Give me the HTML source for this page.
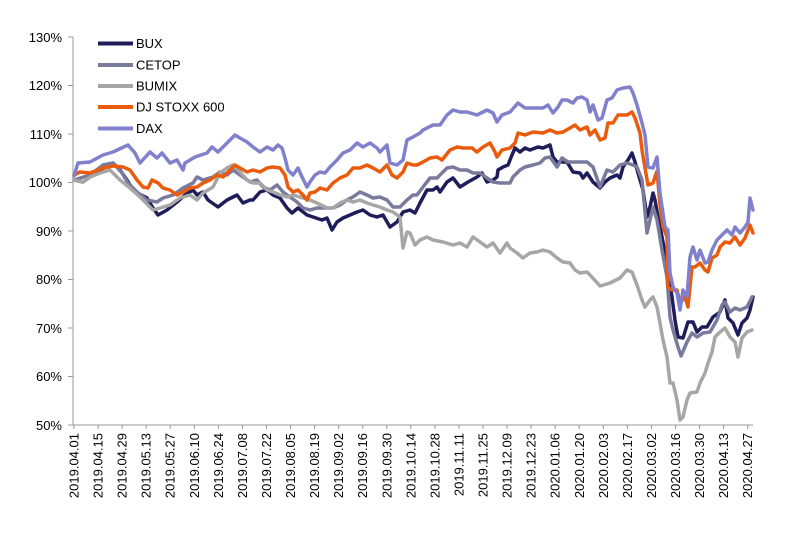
<!DOCTYPE html>
<html><head><meta charset="utf-8"><style>
html,body{margin:0;padding:0;background:#fff;}
svg{display:block;}
text{font-family:"Liberation Sans",Arial,sans-serif;font-size:13px;fill:#000;}
</style></head><body>
<svg width="796" height="536" viewBox="0 0 796 536" xmlns="http://www.w3.org/2000/svg">
<g stroke="#999" stroke-width="1" fill="none">
<line x1="73" y1="37" x2="73" y2="425"/>
<line x1="73" y1="425" x2="753" y2="425"/>
<line x1="68" y1="37" x2="73" y2="37"/><line x1="68" y1="85.5" x2="73" y2="85.5"/><line x1="68" y1="134" x2="73" y2="134"/><line x1="68" y1="182.5" x2="73" y2="182.5"/><line x1="68" y1="231" x2="73" y2="231"/><line x1="68" y1="279.5" x2="73" y2="279.5"/><line x1="68" y1="328" x2="73" y2="328"/><line x1="68" y1="376.5" x2="73" y2="376.5"/><line x1="68" y1="425" x2="73" y2="425"/>
<line x1="74" y1="425" x2="74" y2="429"/><line x1="98.06" y1="425" x2="98.06" y2="429"/><line x1="122.12" y1="425" x2="122.12" y2="429"/><line x1="146.18" y1="425" x2="146.18" y2="429"/><line x1="170.24" y1="425" x2="170.24" y2="429"/><line x1="194.3" y1="425" x2="194.3" y2="429"/><line x1="218.36" y1="425" x2="218.36" y2="429"/><line x1="242.42" y1="425" x2="242.42" y2="429"/><line x1="266.48" y1="425" x2="266.48" y2="429"/><line x1="290.54" y1="425" x2="290.54" y2="429"/><line x1="314.6" y1="425" x2="314.6" y2="429"/><line x1="338.66" y1="425" x2="338.66" y2="429"/><line x1="362.72" y1="425" x2="362.72" y2="429"/><line x1="386.78" y1="425" x2="386.78" y2="429"/><line x1="410.84" y1="425" x2="410.84" y2="429"/><line x1="434.9" y1="425" x2="434.9" y2="429"/><line x1="458.96" y1="425" x2="458.96" y2="429"/><line x1="483.02" y1="425" x2="483.02" y2="429"/><line x1="507.08" y1="425" x2="507.08" y2="429"/><line x1="531.14" y1="425" x2="531.14" y2="429"/><line x1="555.2" y1="425" x2="555.2" y2="429"/><line x1="579.26" y1="425" x2="579.26" y2="429"/><line x1="603.32" y1="425" x2="603.32" y2="429"/><line x1="627.38" y1="425" x2="627.38" y2="429"/><line x1="651.44" y1="425" x2="651.44" y2="429"/><line x1="675.5" y1="425" x2="675.5" y2="429"/><line x1="699.56" y1="425" x2="699.56" y2="429"/><line x1="723.62" y1="425" x2="723.62" y2="429"/><line x1="747.68" y1="425" x2="747.68" y2="429"/>
</g>
<g text-anchor="end">
<text x="62" y="42">130%</text><text x="62" y="90">120%</text><text x="62" y="139">110%</text><text x="62" y="187">100%</text><text x="62" y="236">90%</text><text x="62" y="284">80%</text><text x="62" y="333">70%</text><text x="62" y="381">60%</text><text x="62" y="430">50%</text>
</g>
<g text-anchor="end">
<text transform="translate(78.5,433) rotate(-90)">2019.04.01</text>
<text transform="translate(102.56,433) rotate(-90)">2019.04.15</text>
<text transform="translate(126.62,433) rotate(-90)">2019.04.29</text>
<text transform="translate(150.68,433) rotate(-90)">2019.05.13</text>
<text transform="translate(174.74,433) rotate(-90)">2019.05.27</text>
<text transform="translate(198.8,433) rotate(-90)">2019.06.10</text>
<text transform="translate(222.86,433) rotate(-90)">2019.06.24</text>
<text transform="translate(246.92,433) rotate(-90)">2019.07.08</text>
<text transform="translate(270.98,433) rotate(-90)">2019.07.22</text>
<text transform="translate(295.04,433) rotate(-90)">2019.08.05</text>
<text transform="translate(319.1,433) rotate(-90)">2019.08.19</text>
<text transform="translate(343.16,433) rotate(-90)">2019.09.02</text>
<text transform="translate(367.22,433) rotate(-90)">2019.09.16</text>
<text transform="translate(391.28,433) rotate(-90)">2019.09.30</text>
<text transform="translate(415.34,433) rotate(-90)">2019.10.14</text>
<text transform="translate(439.4,433) rotate(-90)">2019.10.28</text>
<text transform="translate(463.46,433) rotate(-90)">2019.11.11</text>
<text transform="translate(487.52,433) rotate(-90)">2019.11.25</text>
<text transform="translate(511.58,433) rotate(-90)">2019.12.09</text>
<text transform="translate(535.64,433) rotate(-90)">2019.12.23</text>
<text transform="translate(559.7,433) rotate(-90)">2020.01.06</text>
<text transform="translate(583.76,433) rotate(-90)">2020.01.20</text>
<text transform="translate(607.82,433) rotate(-90)">2020.02.03</text>
<text transform="translate(631.88,433) rotate(-90)">2020.02.17</text>
<text transform="translate(655.94,433) rotate(-90)">2020.03.02</text>
<text transform="translate(680,433) rotate(-90)">2020.03.16</text>
<text transform="translate(704.06,433) rotate(-90)">2020.03.30</text>
<text transform="translate(728.12,433) rotate(-90)">2020.04.13</text>
<text transform="translate(752.18,433) rotate(-90)">2020.04.27</text>
</g>
<g fill="none" stroke-width="3.5" stroke-linejoin="round" stroke-linecap="round">
<polyline stroke="#1f1c5a" points="74,180 83,182 90,177 100,170 113,163 120,170 127,180 132,188 137,193 147,198 153,208 158,215 167,210 177,202 185,195 193,190 197,195 203,192 208,200 218,207 227,200 237,195 243,203 250,200 253,200 260,192 267,190 273,195 280,198 287,208 292,213 298,208 307,215 313,217 322,220 327,218 332,230 337,222 343,218 350,215 357,212 363,210 370,215 377,217 383,215 390,227 397,222 403,212 410,210 415,213 420,203 427,190 433,190 437,187 440,192 447,182 453,178 460,187 468,182 477,177 482,173 487,182 493,180 497,177 498,170 503,167 508,165 512,155 515,148 520,152 525,148 530,150 538,147 543,148 550,145 553,157 557,162 567,162 573,172 580,173 583,178 587,173 593,182 600,188 605,182 610,178 617,175 620,178 623,167 628,160 632,153 635,162 638,173 643,190 647,217 650,207 653,193 655,200 658,217 662,237 665,253 668,273 672,297 675,320 678,337 683,338 688,322 693,322 697,332 702,327 707,327 713,317 720,312 725,300 728,318 733,323 738,335 742,323 747,318 750,310 753,297"/>
<polyline stroke="#7a7a9c" points="74,180 90,175 103,165 113,163 122,173 128,183 137,192 147,200 157,202 163,198 173,195 183,188 193,183 197,177 203,180 213,177 220,172 227,175 233,170 240,175 250,182 257,180 263,187 270,190 277,185 283,192 290,197 297,202 303,208 310,210 317,208 327,208 333,208 340,205 347,200 353,197 360,192 367,195 373,198 380,197 387,200 393,207 400,207 407,200 413,195 417,195 423,187 430,178 437,178 442,173 447,168 453,167 460,170 467,170 473,173 480,173 487,178 493,182 500,183 510,183 513,177 520,170 525,167 533,165 540,163 545,158 550,157 557,167 562,158 568,162 577,162 587,162 593,167 600,187 607,170 613,172 620,165 627,163 633,165 637,167 642,180 647,233 650,220 653,207 657,220 662,250 667,277 670,317 673,330 678,347 681,356 687,342 692,333 697,337 703,333 710,332 717,320 722,305 725,302 730,312 735,308 740,310 747,307 752,297"/>
<polyline stroke="#a6a6a6" points="74,180 83,182 90,177 100,173 110,170 120,180 130,188 140,197 150,207 153,210 160,208 170,205 180,198 190,195 197,200 203,193 213,187 220,173 227,168 233,165 240,172 247,180 253,183 260,183 267,190 273,192 280,195 287,197 293,195 303,198 310,200 317,203 327,208 333,208 340,203 347,200 353,202 360,200 367,203 373,205 380,207 387,210 393,212 400,217 403,248 407,232 410,233 415,245 420,240 427,237 433,240 443,242 453,245 460,243 467,247 473,237 480,242 487,247 493,243 500,253 507,243 510,248 517,253 523,258 530,253 537,252 543,250 550,252 557,258 563,262 570,263 575,270 580,273 587,272 590,275 600,286 610,283 620,278 627,270 632,272 637,285 642,300 645,307 650,300 653,297 657,307 660,323 663,340 667,357 670,383 673,383 677,400 680,420 683,417 687,400 690,393 697,392 700,383 705,373 708,363 712,352 715,337 720,332 725,328 730,337 735,342 738,357 742,338 747,332 752,330"/>
<polyline stroke="#ea5b0c" points="74,175 80,172 90,173 103,168 113,166 123,167 130,170 137,180 143,187 148,188 152,180 158,183 163,188 170,190 177,195 183,192 190,188 197,187 203,183 210,180 217,175 223,177 230,170 235,165 240,168 247,172 253,170 260,172 267,168 273,167 280,168 285,175 288,187 293,192 298,190 303,195 307,200 310,193 315,192 320,188 327,190 333,183 340,178 347,175 353,168 360,168 367,165 373,168 380,172 387,165 392,175 397,178 403,172 407,163 413,165 417,165 423,162 430,158 437,157 442,160 450,150 457,147 463,148 472,148 477,152 483,147 490,143 495,152 497,157 502,150 510,148 515,143 518,133 525,135 533,132 543,133 550,130 557,133 563,132 570,128 575,125 580,130 587,127 590,135 595,130 600,140 605,138 608,123 613,123 618,115 627,115 632,112 635,118 640,133 642,150 645,168 648,185 653,183 657,171 660,205 663,227 667,237 668,287 672,290 677,290 680,303 685,297 688,307 692,267 695,267 700,263 705,270 708,272 712,258 717,255 720,247 725,242 730,243 735,237 740,245 745,238 750,225 753,233"/>
<polyline stroke="#8080cc" points="74,176 78,163 90,162 103,155 113,152 128,145 135,153 140,163 150,152 157,158 162,153 170,163 177,160 183,170 185,163 195,157 207,153 212,147 218,152 227,143 235,135 240,138 247,142 253,147 260,152 267,147 273,150 278,145 282,148 285,158 288,170 293,175 298,168 302,177 307,187 310,182 315,175 320,172 325,173 330,167 337,160 343,153 350,150 357,143 363,147 370,143 377,148 380,152 387,145 390,163 397,165 403,160 407,140 413,137 420,133 423,130 433,125 440,125 447,115 453,110 460,112 467,112 477,115 487,110 493,113 497,122 502,115 510,112 518,103 525,108 533,108 543,108 548,105 553,113 558,107 562,100 567,100 573,103 577,98 582,97 587,100 590,112 593,105 598,120 602,118 607,100 612,98 617,90 623,88 630,87 633,93 637,105 642,123 645,135 648,167 653,168 657,157 660,193 665,227 668,230 670,273 673,287 677,293 680,310 683,290 687,297 690,257 693,247 697,260 700,250 705,263 708,262 712,250 717,240 722,235 727,230 732,235 735,227 740,233 745,227 748,222 750,198 753,210"/>
</g>
<g stroke-width="4" stroke-linecap="butt">
<line x1="98" y1="43.5" x2="133" y2="43.5" stroke="#1f1c5a"/>
<line x1="98" y1="65" x2="133" y2="65" stroke="#7a7a9c"/>
<line x1="98" y1="86" x2="133" y2="86" stroke="#a6a6a6"/>
<line x1="98" y1="107" x2="133" y2="107" stroke="#ea5b0c"/>
<line x1="98" y1="128.5" x2="133" y2="128.5" stroke="#8080cc"/>
</g>
<text x="136" y="48">BUX</text>
<text x="136" y="69.5">CETOP</text>
<text x="136" y="90.5">BUMIX</text>
<text x="136" y="111.5">DJ STOXX 600</text>
<text x="136" y="133">DAX</text>
</svg>
</body></html>
